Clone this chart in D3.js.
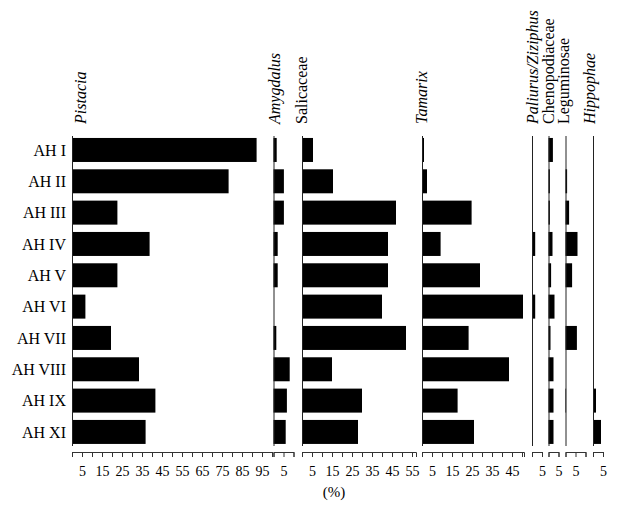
<!DOCTYPE html>
<html><head><meta charset="utf-8">
<script src="https://cdn.jsdelivr.net/npm/d3@7"></script>
<style>
body{margin:0;background:#fff;}
svg{display:block;}
text{font-family:"Liberation Serif","Times New Roman",serif;fill:#000;}
</style></head>
<body><svg id="c" width="618" height="514"></svg>
<script>
// ---- data ----
const categories = ["AH I","AH II","AH III","AH IV","AH V","AH VI","AH VII","AH VIII","AH IX","AH XI"];
const taxa = ["Pistacia","Amygdalus","Salicaceae","Tamarix","Paliurus/Ziziphus","Chenopodiaceae","Leguminosae","Hippophae"];
const italicTaxa = ["Pistacia","Amygdalus","Tamarix","Paliurus/Ziziphus","Hippophae"];
const axisMax = [100, 10, 57, 51, 5, 5, 10, 5];
const pistacia = [92.3, 78.3, 22.7, 38.8, 22.7, 6.7, 19.5, 33.5, 41.7, 36.8];
const amygdalus = [1.6, 5.2, 5.2, 2.1, 2.1, 0, 1.4, 8.1, 6.7, 6.1];
const salicaceae = [5.5, 15.5, 47, 43, 43, 40, 52, 15, 30, 28];
const tamarix = [1, 2.5, 24.8, 9.3, 29, 50.5, 23.3, 43.5, 17.8, 26];
const paliurus = [0, 0, 0.5, 1.6, 0.5, 1.6, 0, 0, 0.5, 0];
const chenopodiaceae = [2.2, 0.7, 0.7, 2, 1.3, 3, 1, 2.5, 2.5, 2.5];
const leguminosae = [0, 0.8, 1.8, 6, 3.3, 0, 5.7, 0, 0.3, 0];
const hippophae = [0, 0, 0, 0, 0, 0, 0, 0, 1.5, 4];
const seriesValues = [pistacia, amygdalus, salicaceae, tamarix, paliurus, chenopodiaceae, leguminosae, hippophae];
const tickStep = 5;
const unitLabel = "(%)";

// ---- layout ----
const pxPerUnit = 2.0;
const panelX = [72, 273.5, 302, 422, 532, 548.5, 565.5, 593];
const labelShift = [13.5, 6.5, 5, 5, 6, 5, 3.5, 2];
const axisY = 452;

const svg = d3.select("#c");
const y = d3.scaleBand().domain(categories).range([134.3, 447.6]).paddingInner(0.234).paddingOuter(0.117);

// category labels
svg.append("g").selectAll("text").data(categories).join("text")
  .attr("x", 66).attr("y", d => y(d) + y.bandwidth()/2)
  .attr("dy", "0.35em").attr("text-anchor", "end")
  .style("font-size", "16px").text(d => d);

taxa.forEach((name, i) => {
  const x = d3.scaleLinear().domain([0, axisMax[i]]).range([0, axisMax[i]*pxPerUnit]);
  const g = svg.append("g").attr("transform", `translate(${panelX[i]},0)`);
  // bars
  g.selectAll("rect").data(seriesValues[i]).join("rect")
    .attr("x", 0).attr("y", (d, j) => y(categories[j]))
    .attr("width", d => x(d)).attr("height", y.bandwidth()).attr("fill", "#000");
  // baseline line
  g.append("line").attr("x1", 0.5).attr("x2", 0.5).attr("y1", 136).attr("y2", 446)
    .attr("stroke", "#222").attr("stroke-width", 1);
  // axis
  const ax = d3.axisBottom(x)
    .tickValues(d3.range(0, axisMax[i] + 0.001, tickStep))
    .tickFormat(d => (d % 10 === 5 ? d : ""))
    .tickSize(5).tickSizeOuter(5).tickPadding(9);
  const ag = g.append("g").attr("transform", `translate(0,${axisY})`).call(ax);
  ag.selectAll("path,line").attr("stroke", "#333");
  ag.selectAll("text").style("font-size", "14px").style("font-family", "Liberation Serif").attr("fill", "#000");
  // taxon label
  svg.append("text")
    .attr("transform", `translate(${panelX[i] + labelShift[i]},124) rotate(-90)`)
    .attr("text-anchor", "start")
    .style("font-size", "16px")
    .style("font-style", italicTaxa.includes(name) ? "italic" : "normal")
    .text(name);
});

svg.append("text").attr("x", 334).attr("y", 497).attr("text-anchor", "middle")
  .style("font-size", "15px").text(unitLabel);
</script></body></html>
